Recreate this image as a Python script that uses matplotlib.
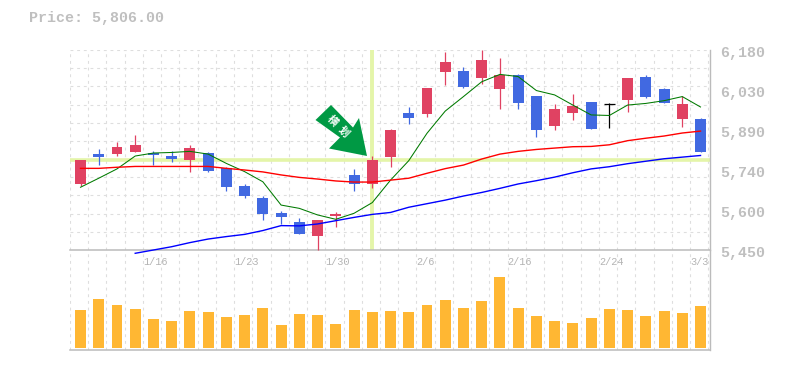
import matplotlib
matplotlib.use("Agg")
import matplotlib.pyplot as plt
from matplotlib.patches import Polygon, Rectangle
import numpy as np

W, H = 785, 370

opens  = [5691,5800,5800,5808,5804,5793,5778,5804,5749,5684,5640,5585,5552,5501,5574,5724,5691,5789,
          5950,5946,6100,6103,6078,6038,6089,6012,5903,5950,5990,5982,5997,6081,6038,5928,5928]
closes = [5778,5789,5826,5833,5797,5782,5822,5738,5680,5647,5581,5570,5508,5560,5581,5691,5778,5888,
          5932,6041,6136,6045,6144,6089,5986,5888,5965,5976,5892,5982,6078,6008,5986,5983,5806]
highs  = [5778,5819,5844,5870,5811,5811,5833,5808,5753,5691,5647,5592,5567,5560,5589,5746,5793,5892,
          5972,6041,6173,6118,6180,6151,6092,6012,5983,6019,5990,5986,6078,6089,6041,6012,5932]
lows   = [5684,5760,5793,5808,5760,5771,5735,5735,5665,5640,5559,5545,5508,5450,5534,5665,5676,5753,
          5910,5935,6052,6041,6056,5965,5965,5862,5888,5924,5892,5895,5954,6005,5986,5899,5806]
volumes = [38,49,43,39,29,27,37,36,31,33,40,23,34,33,24,38,36,37,36,43,48,40,47,71,40,32,27,25,30,39,38,32,37,35,42]
ma_short = [5679,5712,5746,5793,5804,5806,5810,5800,5766,5736,5699,5614,5602,5578,5562,5584,5623,5705,
            5776,5876,5957,6010,6064,6091,6083,6032,6016,5979,5943,5941,5979,5985,5995,6010,5972]
ma_mid = [5748,5748,5752,5755,5755,5755,5755,5755,5748,5742,5735,5724,5715,5709,5702,5698,5698,5705,
          5712,5730,5747,5760,5782,5800,5810,5817,5822,5827,5828,5834,5849,5858,5866,5877,5884]
ma_long_start = 3
ma_long = [5438,5450,5462,5477,5490,5499,5507,5521,5539,5538,5545,5557,5569,5580,5587,
           5606,5619,5632,5647,5660,5675,5691,5703,5716,5732,5746,5754,5765,5774,5783,5789,5795]
y_tick_labels = ["6,180","6,030","5,890","5,740","5,600","5,450"]
date_labels = {4:"1/16", 9:"1/23", 14:"1/30", 19:"2/6", 24:"2/16", 29:"2/24", 34:"3/3"}
title = "Price: 5,806.00"
signal_index = 16
signal_price = 5778.5
price_top, price_bottom = 6180, 5450

RED, BLUE, DOJI = "#E04262", "#4169E1", "#000000"
GRID, AXIS, TXT = "#DEDEDE", "#BBBBBB", "#B4B4B4"
HILITE, ARROW, VOL = "#E4F5A9", "#009944", "#FFB733"
MONO = "Liberation Mono"

fig = plt.figure(figsize=(W/100, H/100), dpi=100, facecolor="white")
L, R = 70, 710
def mk(top, bottom):
    return fig.add_axes([L/W, 1-bottom/H, (R-L)/W, (bottom-top)/H])
ax = mk(50, 250)
av = mk(250, 350)

n = len(opens)
x = np.arange(n)
xlim = (-0.576, 34.52)
gx = np.arange(n + 1) - 0.576
DASH = (0, (2.6, 3.4))
for a in (ax, av):
    a.set_xlim(*xlim)
    a.set_xticks([]); a.set_yticks([])
    for s in a.spines.values():
        s.set_visible(False)
    a.patch.set_alpha(0)
    for g in gx[1:]:
        a.axvline(g, color=GRID, lw=0.8, ls=DASH, zorder=1)
    a.axvline(xlim[0] + 0.004, color=GRID, lw=0.8, ls=DASH, zorder=1)
    a.spines["right"].set_visible(True)
    a.spines["right"].set_color(AXIS)
    a.spines["bottom"].set_visible(True)
    a.spines["bottom"].set_color(AXIS)
    a.spines["right"].set_linewidth(1.0)
    a.spines["bottom"].set_linewidth(1.1)

ax.set_ylim(price_bottom, price_top)
for k in range(0, 11):
    ax.axhline(price_top - k * (price_top - price_bottom) / 11, color=GRID, lw=0.8,
               ls=DASH, zorder=1)

ax.axhline(signal_price, color=HILITE, lw=2.6, zorder=2)
ax.axvline(signal_index, ymin=0.005, color=HILITE, lw=2.8, zorder=2)

bw = 0.6
for i in range(n):
    o, c, h, l = opens[i], closes[i], highs[i], lows[i]
    col = DOJI if o == c else (RED if c > o else BLUE)
    ax.vlines(i, l, h, color=col, lw=0.9, zorder=3, clip_on=False)
    if o == c:
        ax.hlines(c, i - bw/2, i + bw/2, color=col, lw=0.9, zorder=3)
    else:
        ax.add_patch(Rectangle((i - bw/2, min(o, c)), bw, abs(c - o), fc=col, ec="none", zorder=3))

ax.plot(x, ma_short, color="#007A00", lw=0.75, zorder=4)
ax.plot(x, ma_mid, color="#FF0000", lw=1.0, zorder=4)
ax.plot(x[ma_long_start:], ma_long, color="#0000FF", lw=1.0, zorder=4, clip_on=False)

av.set_ylim(-2, 98)
av.bar(x, volumes, width=bw, color=VOL, zorder=3)

for k, lab in enumerate(y_tick_labels):
    v = price_top - k * (price_top - price_bottom) / (len(y_tick_labels) - 1)
    ax.annotate(lab, xy=(1, v), xycoords=ax.get_yaxis_transform(), xytext=(7.2, -1.9),
                textcoords="offset points", ha="left", va="center", fontsize=10.8,
                family=MONO, fontweight="bold", color=TXT, alpha=0.85, annotation_clip=False)
for i, lab in date_labels.items():
    av.annotate(lab, xy=(i - 0.576, 1), xycoords=av.get_xaxis_transform(), xytext=(0, -8.5),
                textcoords="offset points", ha="left", va="center", fontsize=7.4,
                family=MONO, color=TXT)
fig.text(29/W, 1 - 18/H, title, fontsize=10.8, family=MONO, fontweight="bold", color=TXT,
         alpha=0.85, ha="left", va="center")

arrow_px = [(315.5,120),(331,105),(353,127.5),(359,118),(367,156),(329,148.5),(340,137.5)]
fig.add_artist(Polygon([(px/W, 1-py/H) for px, py in arrow_px], closed=True, fc=ARROW, ec="none",
                       transform=fig.transFigure, zorder=6))
for ch, (px, py) in zip("横划", [(332, 121), (343, 132)]):
    fig.text(px/W, 1-py/H, ch, fontsize=7.5, fontweight="bold", color="white", rotation=-45,
             rotation_mode="anchor", ha="center", va="center",
             family=["Noto Sans CJK JP", "DejaVu Sans"], zorder=7)

fig.savefig("out.png", dpi=100, facecolor="white")
